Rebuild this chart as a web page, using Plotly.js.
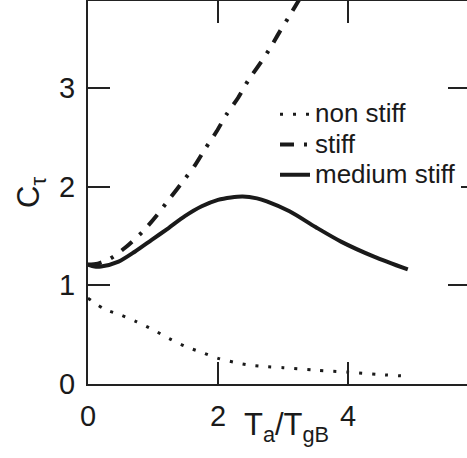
<!DOCTYPE html>
<html>
<head>
<meta charset="utf-8">
<script src="https://cdn.plot.ly/plotly-3.0.1.min.js"></script>
<style>
  html, body { margin: 0; padding: 0; overflow: hidden; background: #fff; }
  #chart { width: 480px; height: 458px; }
</style>
</head>
<body>
<div id="chart"></div>
<script>
// Series names
const seriesNames = ["non stiff", "stiff", "medium stiff"];

// non stiff (dotted)
const xNonStiff = [0, 0.25, 0.5, 0.75, 1.0, 1.25, 1.5, 1.75, 2.0, 2.25, 2.5, 2.75, 3.0, 3.5, 4.0, 4.5, 4.9];
const yNonStiff = [0.87, 0.76, 0.70, 0.63, 0.55, 0.46, 0.38, 0.32, 0.26, 0.22, 0.19, 0.175, 0.165, 0.14, 0.12, 0.095, 0.08];

// stiff (dash-dot)
const xStiff = [0, 0.15, 0.34, 0.57, 0.85, 1.06, 1.27, 1.47, 1.65, 1.8, 1.98, 2.13, 2.31, 2.47, 2.63, 2.8, 2.95, 3.11, 3.3];
const yStiff = [1.21, 1.22, 1.27, 1.38, 1.55, 1.71, 1.89, 2.06, 2.22, 2.38, 2.56, 2.73, 2.90, 3.08, 3.23, 3.40, 3.57, 3.74, 3.95];

// medium stiff (solid)
const xMedium = [0, 0.1, 0.2, 0.47, 0.72, 0.98, 1.24, 1.49, 1.75, 2.0, 2.2, 2.38, 2.6, 2.75, 3.1, 3.5, 3.9, 4.4, 4.92];
const yMedium = [1.21, 1.19, 1.19, 1.24, 1.34, 1.46, 1.58, 1.70, 1.80, 1.865, 1.89, 1.90, 1.88, 1.85, 1.75, 1.59, 1.44, 1.29, 1.16];

// ticks
const xTickVals = [0, 2, 4];
const xTickText = ["0", "2", "4"];
const yTickVals = [0, 1, 2, 3];
const yTickText = ["0", "1", "2", "3"];

const FONT = "Liberation Sans, Arial, Helvetica, sans-serif";
const INK = "#1a1a1a";

function legendLabel(s) {
  return '<span style="font-size:26px">' + s + '</span>';
}

const traces = [
  { x: xNonStiff, y: yNonStiff, name: legendLabel(seriesNames[0]), type: "scatter", mode: "lines",
    line: { color: INK, width: 3, dash: "3px,10px", shape: "spline", smoothing: 0.8 } },
  { x: xStiff, y: yStiff, name: legendLabel(seriesNames[1]), type: "scatter", mode: "lines",
    line: { color: INK, width: 4, dash: "14px,10px,3px,10px", shape: "spline", smoothing: 0.8 } },
  { x: xMedium, y: yMedium, name: legendLabel(seriesNames[2]), type: "scatter", mode: "lines",
    line: { color: INK, width: 4, shape: "spline", smoothing: 0.8 } }
];

const axisCommon = {
  showline: true, linewidth: 2, linecolor: "#222", mirror: "allticks",
  ticks: "inside", ticklen: 22, tickwidth: 2, tickcolor: "#222",
  showgrid: false, zeroline: false,
  tickfont: { family: FONT, size: 29, color: INK }
};

const layout = {
  width: 480, height: 458,
  margin: { l: 88, r: 10, t: 1, b: 74 },
  paper_bgcolor: "#fff", plot_bgcolor: "#fff",
  showlegend: true,
  legend: {
    x: (275 - 88) / 382, y: 1 - (94 - 1) / 383, xanchor: "left", yanchor: "top",
    bgcolor: "rgba(255,255,255,1)", borderwidth: 0,
    font: { family: FONT, size: 21, color: INK },
    tracegroupgap: 0
  },
  xaxis: Object.assign({}, axisCommon, {
    range: [0, 5.877], tickvals: xTickVals, ticktext: xTickText, ticklabelstandoff: 5
  }),
  yaxis: Object.assign({}, axisCommon, {
    range: [0, 3.88], tickvals: yTickVals, ticktext: yTickText, ticklabelstandoff: 5,
    title: { text: "C<sub>τ</sub>", font: { family: FONT, size: 31, color: INK }, standoff: 10 }
  }),
  annotations: [
    { text: "T<sub>a</sub>/T<sub>gB</sub>", xref: "paper", yref: "paper",
      x: (286 - 88) / 382, y: -0.113, xanchor: "center", yanchor: "middle", showarrow: false,
      font: { family: FONT, size: 31, color: INK } }
  ]
};

Plotly.newPlot("chart", traces, layout, { displayModeBar: false, staticPlot: true });
</script>
</body>
</html>
